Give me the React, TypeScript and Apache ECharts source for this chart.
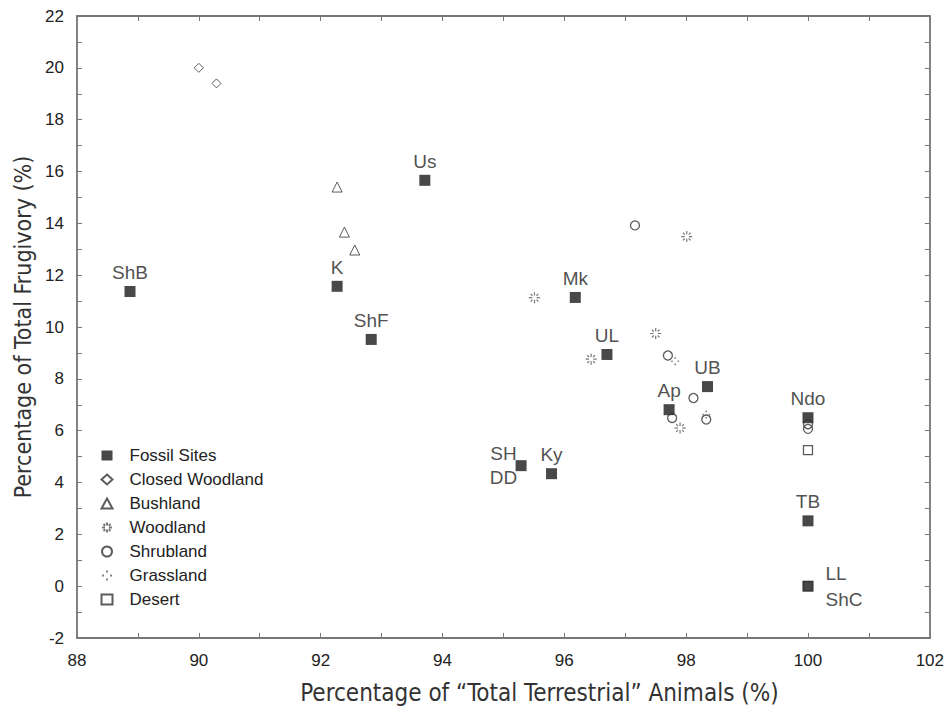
import React, { useEffect, useRef } from "react";
import * as echarts from "echarts";

// ---- data ----
const fossilNames = ["ShB", "K", "ShF", "Us", "Mk", "UL", "UB", "Ap", "Ndo", "SH\nDD", "Ky", "TB", "LL\nShC"];
const fossilX = [88.87, 92.27, 92.83, 93.71, 96.18, 96.7, 98.35, 97.72, 100, 95.29, 95.79, 100, 100];
const fossilY = [11.37, 11.57, 9.52, 15.66, 11.14, 8.94, 7.7, 6.81, 6.5, 4.65, 4.34, 2.52, 0];

const closedWoodlandX = [90.0, 90.29];
const closedWoodlandY = [20.0, 19.4];

const bushlandX = [92.27, 92.39, 92.56];
const bushlandY = [15.4, 13.66, 12.97];

const woodlandX = [98.01, 95.51, 97.5, 96.44, 97.9];
const woodlandY = [13.49, 11.13, 9.75, 8.76, 6.1];

const shrublandX = [97.16, 97.7, 98.12, 97.77, 98.33, 100, 100];
const shrublandY = [13.92, 8.9, 7.26, 6.49, 6.43, 6.25, 6.07];

const grasslandX = [97.82, 98.33];
const grasslandY = [8.68, 6.62];

const desertX = [100, 100];
const desertY = [5.25, 0];

const legendNames = ["Fossil Sites", "Closed Woodland", "Bushland", "Woodland", "Shrubland", "Grassland", "Desert"];

const zip = (xs: number[], ys: number[]) => xs.map((x, i) => [x, ys[i]]);

const WOODLAND_PATH =
  "path://M0,5 L3,5 M7,5 L10,5 M5,0 L5,3 M5,7 L5,10 M1.5,1.5 L3.2,3.2 M6.8,6.8 L8.5,8.5 M8.5,1.5 L6.8,3.2 M3.2,6.8 L1.5,8.5";
const GRASS_PATH =
  "path://M4,0 h2 v2 h-2 z M0,4 h2 v2 h-2 z M8,4 h2 v2 h-2 z M4,8 h2 v2 h-2 z";

export default function App() {
  const ref = useRef<HTMLDivElement>(null);
  useEffect(() => {
    if (!ref.current) return;
    const chart = echarts.init(ref.current, null, { renderer: "svg" });
    const axisColor = "#777";
    const tickFont = { fontFamily: "Liberation Sans, Arial, sans-serif", fontSize: 17, color: "#222" };
    const titleFamily = "DejaVu Sans Condensed, Liberation Sans Narrow, sans-serif";
    const hollow = { color: "#fff", borderColor: "#333", borderWidth: 1 };
    const tick = { show: true, inside: true, length: 5, lineStyle: { color: axisColor } };
    const minor = { show: true, splitNumber: 2, length: 5, lineStyle: { color: axisColor } };
    const line = { show: true, onZero: false, lineStyle: { color: axisColor, width: 1.8 } };
    const option: any = {
      animation: false,
      backgroundColor: "#fff",
      grid: { left: 77, right: 14, top: 16, bottom: 76 },
      legend: {
        orient: "vertical",
        left: 94,
        top: 442,
        itemGap: 7,
        itemWidth: 11,
        itemHeight: 10,
        data: legendNames,
        textStyle: { ...tickFont, padding: [0, 0, 0, 12] },
      },
      xAxis: [
        {
          type: "value",
          min: 88,
          max: 102,
          interval: 2,
          name: "Percentage of \u201CTotal Terrestrial\u201D Animals (%)",
          nameLocation: "middle",
          nameGap: 43,
          nameTextStyle: { fontFamily: titleFamily, fontSize: 24, color: "#333", padding: [0, 0, 0, 72] },
          axisLine: line,
          axisTick: tick,
          minorTick: minor,
          axisLabel: { ...tickFont, margin: 14 },
          splitLine: { show: false },
        },
        {
          type: "value",
          position: "top",
          min: 88,
          max: 102,
          interval: 2,
          axisLine: line,
          axisTick: tick,
          minorTick: minor,
          axisLabel: { show: false },
          splitLine: { show: false },
        },
      ],
      yAxis: [
        {
          type: "value",
          min: -2,
          max: 22,
          interval: 2,
          name: "Percentage of Total Frugivory (%)",
          nameLocation: "middle",
          nameGap: 43,
          nameTextStyle: { fontFamily: titleFamily, fontSize: 23, color: "#333" },
          axisLine: line,
          axisTick: tick,
          minorTick: minor,
          axisLabel: { ...tickFont, margin: 13 },
          splitLine: { show: false },
        },
        {
          type: "value",
          position: "right",
          min: -2,
          max: 22,
          interval: 2,
          axisLine: line,
          axisTick: tick,
          minorTick: minor,
          axisLabel: { show: false },
          splitLine: { show: false },
        },
      ],
      series: [
        {
          name: "Fossil Sites",
          type: "scatter",
          symbol: "rect",
          symbolSize: 11,
          itemStyle: { color: "#1a1a1a" },
          data: fossilX.map((x, i) => {
            const nm = fossilNames[i];
            let label: any = { show: true, position: "top", distance: 4 };
            if (nm === "SH\nDD") label = { show: true, position: "left", distance: 12, align: "center", lineHeight: 24 };
            if (nm === "LL\nShC") label = { show: true, position: "right", distance: 12, align: "left", lineHeight: 26 };
            return { value: [x, fossilY[i]], name: nm, label };
          }),
          label: {
            formatter: (p: any) => p.name,
            fontFamily: "Liberation Sans, Arial, sans-serif",
            fontSize: 19,
            color: "#222",
          },
          z: 2,
        },
        {
          name: "Closed Woodland",
          type: "scatter",
          symbol: "diamond",
          symbolSize: 9,
          itemStyle: hollow,
          data: zip(closedWoodlandX, closedWoodlandY),
          z: 3,
        },
        {
          name: "Bushland",
          type: "scatter",
          symbol: "triangle",
          symbolSize: 10,
          itemStyle: hollow,
          data: zip(bushlandX, bushlandY),
          z: 3,
        },
        {
          name: "Woodland",
          type: "scatter",
          symbol: WOODLAND_PATH,
          symbolSize: 11,
          itemStyle: { color: "none", borderColor: "#555", borderWidth: 1.2 },
          data: zip(woodlandX, woodlandY),
          z: 3,
        },
        {
          name: "Shrubland",
          type: "scatter",
          symbol: "circle",
          symbolSize: 9,
          itemStyle: { color: "none", borderColor: "#333", borderWidth: 1.3 },
          data: zip(shrublandX, shrublandY),
          z: 3,
        },
        {
          name: "Grassland",
          type: "scatter",
          symbol: GRASS_PATH,
          symbolSize: 8,
          itemStyle: { color: "#666" },
          data: zip(grasslandX, grasslandY),
          z: 3,
        },
        {
          name: "Desert",
          type: "scatter",
          symbol: "rect",
          symbolSize: 9,
          itemStyle: { color: "none", borderColor: "#333", borderWidth: 1.3 },
          data: zip(desertX, desertY),
          z: 3,
        },
      ],
    };
    chart.setOption(option);
    return () => chart.dispose();
  }, []);
  return (
    <div
      ref={ref}
      style={{ position: "fixed", left: 0, top: 0, width: 947, height: 714, background: "#fff" }}
    />
  );
}
